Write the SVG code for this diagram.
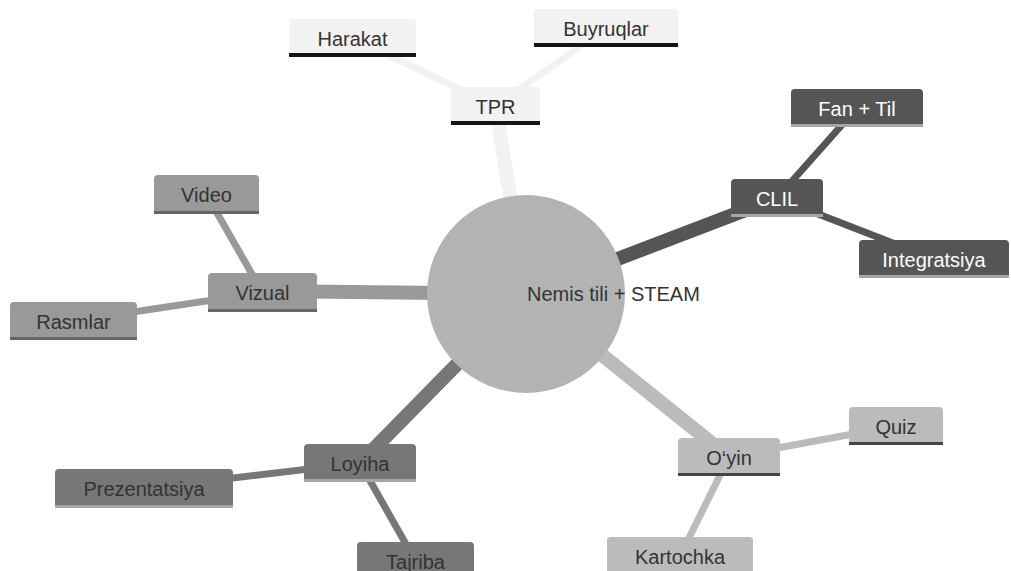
<svg xmlns="http://www.w3.org/2000/svg" width="1011" height="571" viewBox="0 0 1011 571">
<style>
text{font-family:"Liberation Sans",Arial,sans-serif;font-size:20px;fill:#333;text-anchor:middle}
.c{fill:none;stroke-linecap:butt}
.main{stroke-width:14}
.sub{stroke-width:7}
.tpr .b{fill:#f2f2f2}.tpr .u{fill:#151515}
.clil .b{fill:#555}.clil .u{fill:#a6a6a6}.clil text{fill:#fff}
.viz .b{fill:#999}.viz .u{fill:#666}
.loy .b{fill:#777}.loy .u{fill:#a6a6a6}
.oyin .b{fill:#bbb}.oyin .u{fill:#444}
</style>
<rect width="1011" height="571" fill="#fff"/>
<g id="connectors">
<line class="c main" x1="526" y1="294" x2="495.5" y2="106" stroke="#f2f2f2"/>
<line class="c sub" x1="495.5" y1="106" x2="352.5" y2="38" stroke="#f2f2f2" stroke-width="8"/>
<line class="c sub" x1="495.5" y1="106" x2="606" y2="28" stroke="#f2f2f2" stroke-width="8"/>
<line class="c main" x1="526" y1="294" x2="777" y2="198" stroke="#555" stroke-width="13"/>
<line class="c sub" x1="777" y1="198" x2="857" y2="108" stroke="#555"/>
<line class="c sub" x1="777" y1="198" x2="934" y2="259" stroke="#555"/>
<line class="c main" x1="526" y1="294" x2="262.5" y2="291" stroke="#999"/>
<line class="c sub" x1="262.5" y1="292.5" x2="206.5" y2="194.5" stroke="#999"/>
<line class="c sub" x1="262.5" y1="292.5" x2="73.5" y2="321" stroke="#999"/>
<line class="c main" x1="526" y1="294" x2="360" y2="463" stroke="#777"/>
<line class="c sub" x1="360" y1="463" x2="144" y2="488.5" stroke="#777"/>
<line class="c sub" x1="360" y1="463" x2="415.5" y2="561" stroke="#777"/>
<line class="c main" x1="526" y1="294" x2="729" y2="457" stroke="#bbb"/>
<line class="c sub" x1="729" y1="457" x2="896" y2="426" stroke="#bbb"/>
<line class="c sub" x1="729" y1="457" x2="680" y2="556" stroke="#bbb"/>
</g>
<g id="center">
<circle cx="526" cy="294" r="99" fill="#b3b3b3"/>
<text x="527" y="301" style="text-anchor:start">Nemis tili + STEAM</text>
</g>
<g id="tpr" class="tpr">
<path class="b" d="M451,121V91Q451,87 455,87H536Q540,87 540,91V121Z"/><rect class="u" x="451" y="121" width="89" height="4"/>
<text x="495.5" y="114">TPR</text>
</g>
<g id="harakat" class="tpr">
<path class="b" d="M289,53V23Q289,19 293,19H412Q416,19 416,23V53Z"/><rect class="u" x="289" y="53" width="127" height="4"/>
<text x="352.5" y="46">Harakat</text>
</g>
<g id="buyruqlar" class="tpr">
<path class="b" d="M534,43V13Q534,9 538,9H674Q678,9 678,13V43Z"/><rect class="u" x="534" y="43" width="144" height="4"/>
<text x="606" y="36">Buyruqlar</text>
</g>
<g id="clil" class="clil">
<path class="b" d="M731,214V183Q731,179 735,179H819Q823,179 823,183V214Z"/><rect class="u" x="731" y="214" width="92" height="3"/>
<text x="777" y="206">CLIL</text>
</g>
<g id="fantil" class="clil">
<path class="b" d="M791,124V93Q791,89 795,89H919Q923,89 923,93V124Z"/><rect class="u" x="791" y="124" width="132" height="3"/>
<text x="857" y="116">Fan + Til</text>
</g>
<g id="integratsiya" class="clil">
<path class="b" d="M859,275V244Q859,240 863,240H1005Q1009,240 1009,244V275Z"/><rect class="u" x="859" y="275" width="150" height="3"/>
<text x="934" y="267">Integratsiya</text>
</g>
<g id="vizual" class="viz">
<path class="b" d="M208,309V277Q208,273 212,273H313Q317,273 317,277V309Z"/><rect class="u" x="208" y="309" width="109" height="3"/>
<text x="262.5" y="300">Vizual</text>
</g>
<g id="video" class="viz">
<path class="b" d="M154,211V179Q154,175 158,175H255Q259,175 259,179V211Z"/><rect class="u" x="154" y="211" width="105" height="3"/>
<text x="206.5" y="202">Video</text>
</g>
<g id="rasmlar" class="viz">
<path class="b" d="M10,337V306Q10,302 14,302H133Q137,302 137,306V337Z"/><rect class="u" x="10" y="337" width="127" height="3"/>
<text x="73.5" y="329">Rasmlar</text>
</g>
<g id="loyiha" class="loy">
<path class="b" d="M304,479V448Q304,444 308,444H412Q416,444 416,448V479Z"/><rect class="u" x="304" y="479" width="112" height="3"/>
<text x="360" y="471">Loyiha</text>
</g>
<g id="prezentatsiya" class="loy">
<path class="b" d="M55,505V473Q55,469 59,469H229Q233,469 233,473V505Z"/><rect class="u" x="55" y="505" width="178" height="3"/>
<text x="144" y="496">Prezentatsiya</text>
</g>
<g id="tajriba" class="loy">
<path class="b" d="M357,577V546Q357,542 361,542H470Q474,542 474,546V577Z"/><rect class="u" x="357" y="577" width="117" height="3"/>
<text x="415.5" y="569">Tajriba</text>
</g>
<g id="oyin" class="oyin">
<path class="b" d="M678,473V442Q678,438 682,438H776Q780,438 780,442V473Z"/><rect class="u" x="678" y="473" width="102" height="3"/>
<text x="729" y="465">O‘yin</text>
</g>
<g id="quiz" class="oyin">
<path class="b" d="M849,442V411Q849,407 853,407H939Q943,407 943,411V442Z"/><rect class="u" x="849" y="442" width="94" height="3"/>
<text x="896" y="434">Quiz</text>
</g>
<g id="kartochka" class="oyin">
<path class="b" d="M607,572V541Q607,537 611,537H749Q753,537 753,541V572Z"/><rect class="u" x="607" y="572" width="146" height="3"/>
<text x="680" y="564">Kartochka</text>
</g>
</svg>
